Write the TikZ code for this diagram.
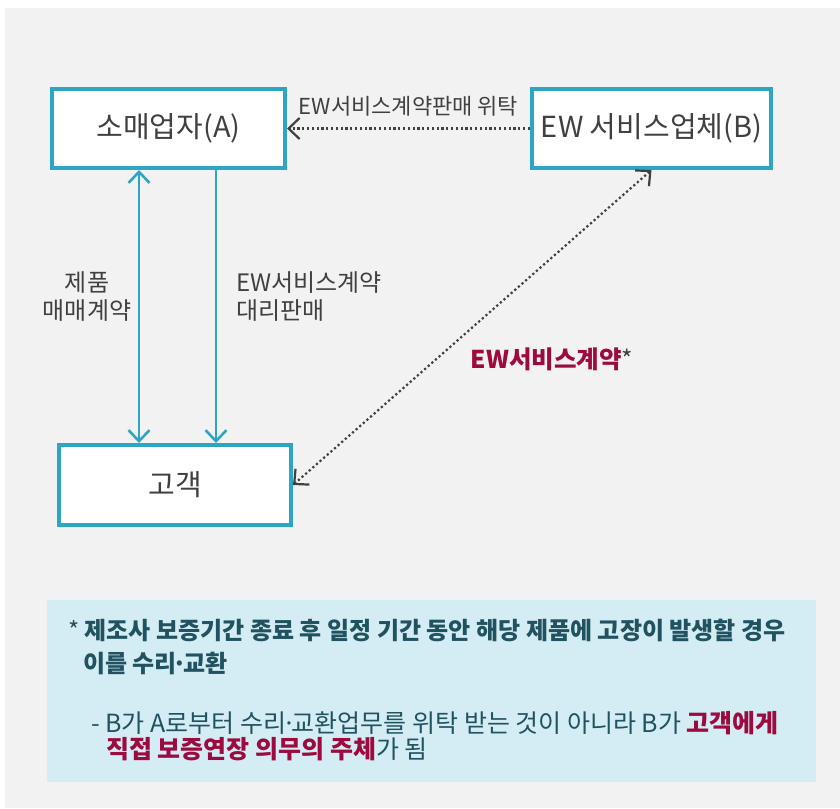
\documentclass[tikz,border=0pt]{standalone}
\usepackage{fontspec}
\setmainfont{Noto Sans CJK KR}
\usetikzlibrary{arrows.meta,calc}
\definecolor{bggray}{HTML}{F2F2F2}
\definecolor{boxblue}{HTML}{2EA6C3}
\definecolor{notebg}{HTML}{D4EDF4}
\definecolor{txtgray}{HTML}{404040}
\definecolor{notetxt}{HTML}{21525F}
\definecolor{accred}{HTML}{9C0A3E}
\newcommand{\mdot}{\kern-0.17em·\kern-0.17em}

\begin{document}
\begin{tikzpicture}[x=1pt,y=-1pt,
   barb/.tip={Straight Barb[length=11pt,width=21pt]},
   box/.style={draw=boxblue,line width=4pt,fill=white,text=txtgray,
     font=\fontsize{29}{33}\selectfont},
   flow/.style={draw=boxblue,line width=2.6pt},
   dots/.style={draw=txtgray,line width=2.2pt,dash pattern=on 2.2pt off 2.6pt},
   lbl/.style={inner sep=0,text=txtgray,font=\fontsize{24}{28}\selectfont},
   notetext/.style={inner sep=0,anchor=base west,text=notetxt,
     font=\fontsize{24}{28}\selectfont}]
  \useasboundingbox (0,0) rectangle (840,808);
  \fill[bggray] (5,8) rectangle (840,808);
  \node[box,minimum width=233,minimum height=79] (retail) at (168.5,128.5) {소매업자(A)};
  \node[box,minimum width=239,minimum height=79] (ewco) at (651.5,128.5) {EW 서비스업체(B)};
  \node[box,minimum width=232,minimum height=80] (cust) at (175,485) {고객};
  \draw[flow,barb-barb] ([xshift=-29.5pt]retail.south) -- ([xshift=-36pt]cust.north);
  \draw[flow,-barb] ([xshift=47.5pt]retail.south) -- ([xshift=41pt]cust.north);
  \draw[dots,-barb] (ewco.west) -- node[lbl,above=11pt,font=\fontsize{22}{26}\selectfont] (salelbl) {EW서비스계약판매 위탁} (retail.east);
  \draw[dots,barb-barb] (ewco.south) -- (cust.east);
  \node[lbl,align=center] (prodlbl) at (87,297) {제품\\매매계약};
  \node[lbl,align=left,anchor=west] (agentlbl) at (236,297) {EW서비스계약\\대리판매};
  \node[lbl,font=\fontsize{24.5}{28}\selectfont] (ewlbl) at (552,359) {\textcolor{accred}{\bfseries EW서비스계약}*};
  \node[fill=notebg,minimum width=769,minimum height=182,inner sep=0] (note) at (431.5,691) {};
  \node[notetext] (line1) at (68,639) {* {\bfseries 제조사 보증기간 종료 후 일정 기간 동안 해당 제품에 고장이 발생할 경우}};
  \node[notetext] (line2) at (83,672) {\bfseries 이를 수리\mdot 교환};
  \node[notetext,font=\fontsize{25}{29}\selectfont] (line3) at (91,732) {- B가 A로부터 수리\mdot 교환업무를 위탁 받는 것이 아니라 B가 \textcolor{accred}{\bfseries 고객에게}};
  \node[notetext,font=\fontsize{25}{29}\selectfont] (line4) at (106,758) {\textcolor{accred}{\bfseries 직접 보증연장 의무의 주체}가 됨};
\end{tikzpicture}
\end{document}
